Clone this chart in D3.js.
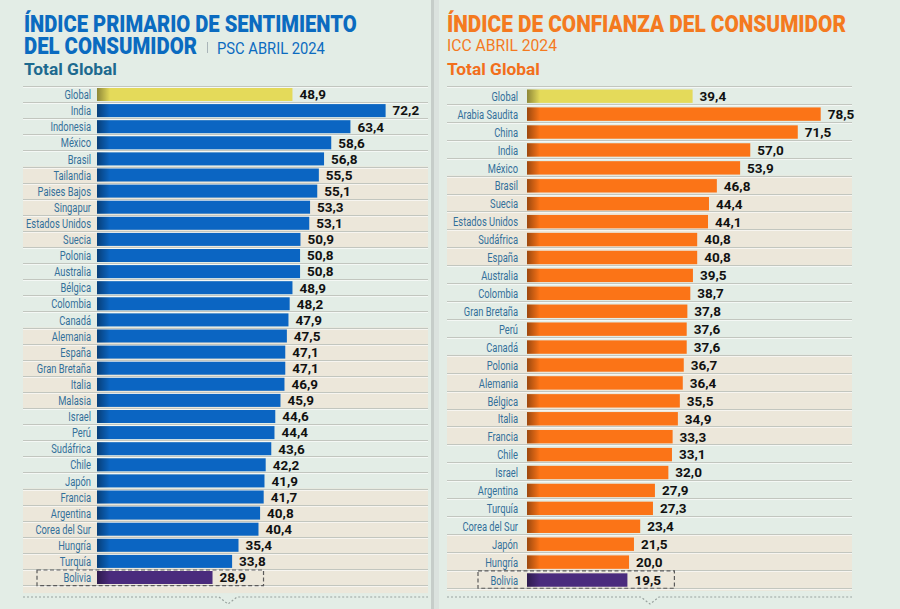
<!DOCTYPE html>
<html>
<head>
<meta charset="utf-8">
<script src="https://cdn.jsdelivr.net/npm/d3@7"></script>
<style>
  html, body { margin: 0; padding: 0; background: #e3ede6; }
  svg { display: block; }
</style>
</head>
<body>
<div id="chart"></div>
<script>
// left panel: Índice Primario de Sentimiento del Consumidor (PSC)
const pscCountries = ["Global", "India", "Indonesia", "México", "Brasil", "Tailandia", "Paises Bajos",
  "Singapur", "Estados Unidos", "Suecia", "Polonia", "Australia", "Bélgica", "Colombia", "Canadá",
  "Alemania", "España", "Gran Bretaña", "Italia", "Malasia", "Israel", "Perú", "Sudáfrica", "Chile",
  "Japón", "Francia", "Argentina", "Corea del Sur", "Hungría", "Turquía", "Bolivia"];
const pscValues = [48.9, 72.2, 63.4, 58.6, 56.8, 55.5, 55.1, 53.3, 53.1, 50.9, 50.8, 50.8, 48.9, 48.2,
  47.9, 47.5, 47.1, 47.1, 46.9, 45.9, 44.6, 44.4, 43.6, 42.2, 41.9, 41.7, 40.8, 40.4, 35.4, 33.8, 28.9];

// right panel: Índice de Confianza del Consumidor (ICC)
const iccCountries = ["Global", "Arabia Saudita", "China", "India", "México", "Brasil", "Suecia",
  "Estados Unidos", "Sudáfrica", "España", "Australia", "Colombia", "Gran Bretaña", "Perú", "Canadá",
  "Polonia", "Alemania", "Bélgica", "Italia", "Francia", "Chile", "Israel", "Argentina", "Turquía",
  "Corea del Sur", "Japón", "Hungría", "Bolivia"];
const iccValues = [39.4, 78.5, 71.5, 57.0, 53.9, 46.8, 44.4, 44.1, 40.8, 40.8, 39.5, 38.7, 37.8, 37.6,
  37.6, 36.7, 36.4, 35.5, 34.9, 33.3, 33.1, 32.0, 27.9, 27.3, 23.4, 21.5, 20.0, 19.5];

const W = 900, H = 609;
const bgMint = "#e3ede6", bgBeige = "#ece7da";
const fmt = v => d3.format(".1f")(v).replace(".", ",");

const svg = d3.select("#chart").append("svg")
    .attr("width", W)
    .attr("height", H);

svg.append("rect").attr("width", W).attr("height", H).attr("fill", bgMint);

// shadow at the left edge of every bar
const defs = svg.append("defs");
const shade = defs.append("linearGradient")
    .attr("id", "shade")
    .attr("x1", 0).attr("x2", 1).attr("y1", 0).attr("y2", 0);
shade.append("stop").attr("offset", 0).attr("stop-color", "#000").attr("stop-opacity", 0.38);
shade.append("stop").attr("offset", 1).attr("stop-color", "#000").attr("stop-opacity", 0);

// divider between the two panels
svg.append("rect").attr("x", 431).attr("y", 0).attr("width", 3).attr("height", H).attr("fill", "#c6cdc9");
svg.append("rect").attr("x", 434).attr("y", 0).attr("width", 5).attr("height", H).attr("fill", "#dbe2de");

function drawPanel(cfg) {
    const data = cfg.countries.map((c, i) => ({country: c, value: cfg.values[i], i: i}));
    const g = svg.append("g");

    const y = d3.scaleBand()
        .domain(cfg.countries)
        .range([cfg.top, cfg.top + cfg.step * cfg.countries.length]);
    const x = d3.scaleLinear()
        .domain(cfg.domain)
        .range([cfg.barX, cfg.barEnd]);

    // row bands of five, alternating mint / beige
    const bands = d3.groups(data, d => Math.min(Math.floor(d.i / 5), cfg.lastBand));
    g.selectAll(".band")
        .data(bands)
        .join("rect")
        .attr("x", cfg.rowX0)
        .attr("width", cfg.rowX1 - cfg.rowX0)
        .attr("y", d => y(d[1][0].country))
        .attr("height", (d, k) => d[1].length * y.step() + (k === bands.length - 1 ? cfg.tail : 0))
        .attr("fill", d => d[0] % 2 ? bgBeige : bgMint);

    // row separator lines
    const lineYs = data.map(d => y(d.country)).concat([y.range()[1]]);
    g.selectAll(".sep")
        .data(lineYs)
        .join("line")
        .attr("x1", cfg.rowX0).attr("x2", cfg.rowX1)
        .attr("y1", d => Math.round(d) + 0.5).attr("y2", d => Math.round(d) + 0.5)
        .attr("stroke", "#c2c6bf");
    g.selectAll(".sepHi")
        .data(lineYs)
        .join("line")
        .attr("x1", cfg.rowX0).attr("x2", cfg.rowX1)
        .attr("y1", d => Math.round(d) + 1.5).attr("y2", d => Math.round(d) + 1.5)
        .attr("stroke", "#ffffff").attr("stroke-opacity", 0.6);

    // bars
    const colorOf = d => d.country === "Global" ? "#e4da5a" : d.country === "Bolivia" ? "#4a2b7d" : cfg.color;
    g.selectAll(".bar")
        .data(data)
        .join("rect")
        .attr("x", x(cfg.domain[0]))
        .attr("y", d => y(d.country) + cfg.barOff)
        .attr("width", d => x(d.value) - x(cfg.domain[0]))
        .attr("height", cfg.barH)
        .attr("fill", colorOf);
    g.selectAll(".barShade")
        .data(data)
        .join("rect")
        .attr("x", x(cfg.domain[0]))
        .attr("y", d => y(d.country) + cfg.barOff)
        .attr("width", 13)
        .attr("height", cfg.barH)
        .attr("fill", "url(#shade)");

    // country labels (narrow face, squeezed horizontally)
    g.selectAll(".lbl")
        .data(data)
        .join("text")
        .attr("transform", d => `translate(${cfg.labelX},${y(d.country) + cfg.barOff + cfg.barH / 2}) scale(0.72,1)`)
        .attr("dy", "0.36em")
        .attr("text-anchor", "end")
        .style("font-family", "Roboto, sans-serif")
        .style("font-size", "13px")
        .style("fill", "#33709a")
        .text(d => d.country);

    // value labels
    g.selectAll(".val")
        .data(data)
        .join("text")
        .attr("x", d => x(d.value) + 7)
        .attr("y", d => y(d.country) + cfg.barOff + cfg.barH / 2)
        .attr("dy", "0.36em")
        .style("font-family", "Roboto, sans-serif")
        .style("font-weight", 700)
        .style("font-size", "13.5px")
        .style("fill", "#111")
        .text(d => fmt(d.value));

    // dashed box around Bolivia
    const bol = data.find(d => d.country === "Bolivia");
    g.append("rect")
        .attr("x", cfg.labelX - cfg.boxLeft)
        .attr("y", y(bol.country) + 1)
        .attr("width", x(bol.value) + cfg.boxRight - (cfg.labelX - cfg.boxLeft))
        .attr("height", y.step() - 0.5)
        .attr("fill", "none")
        .attr("stroke", "#5a5a5a")
        .attr("stroke-width", 1.2)
        .attr("stroke-dasharray", "4,2.5");

    // dotted rule with a notch at the bottom
    g.append("path")
        .attr("d", `M${cfg.rowX0},597 H${cfg.notch - 9} L${cfg.notch},604 L${cfg.notch + 9},597 H${cfg.rowX1}`)
        .attr("fill", "none")
        .attr("stroke", "#99a39f")
        .attr("stroke-width", 1.2)
        .attr("stroke-dasharray", "2,2");
}

drawPanel({
    countries: pscCountries, values: pscValues,
    top: 86, step: 16.1, barOff: 2, barH: 13,
    domain: [0, 72.2], barX: 97, barEnd: 385.6,
    rowX0: 23, rowX1: 428, labelX: 91, lastBand: 5, tail: 8,
    color: "#0b65c2", boxLeft: 54, boxRight: 51, notch: 228
});

drawPanel({
    countries: iccCountries, values: iccValues,
    top: 86, step: 17.92, barOff: 3.5, barH: 13.4,
    domain: [-11.15, 78.5], barX: 527, barEnd: 820.7,
    rowX0: 447, rowX1: 852, labelX: 518, lastBand: 5, tail: 3,
    color: "#fb7417", boxLeft: 40, boxRight: 47, notch: 650
});

// titles: squeezed horizontally to the width they take in the original
const titleFont = "Roboto, 'Open Sans', sans-serif";
function title(txt, xx, yy, len, size, weight, color) {
    const t = svg.append("text")
        .style("font-family", titleFont)
        .style("font-size", size + "px")
        .style("font-weight", weight)
        .style("fill", color)
        .text(txt);
    const k = len / t.node().getComputedTextLength();
    t.attr("transform", `translate(${xx},${yy}) scale(${k},1)`);
}
const blue = "#0b6bc0", orange = "#f47a1f";
title("ÍNDICE PRIMARIO DE SENTIMIENTO", 24, 32, 333, 23, 900, blue);
title("DEL CONSUMIDOR", 24, 53.5, 173, 23, 900, blue);
svg.append("line").attr("x1", 207.5).attr("x2", 207.5).attr("y1", 42).attr("y2", 53)
    .attr("stroke", "#a9b4b8").attr("stroke-width", 1);
title("PSC ABRIL 2024", 217, 53.5, 108, 16, 400, blue);
title("Total Global", 24, 75, 93, 17, 700, "#1d6a8f");

title("ÍNDICE DE CONFIANZA DEL CONSUMIDOR", 447, 32, 399, 23, 900, orange);
title("ICC ABRIL 2024", 447, 50.5, 110, 16, 400, orange);
title("Total Global", 447, 75, 93, 17, 700, "#f26f1c");
</script>
</body>
</html>
